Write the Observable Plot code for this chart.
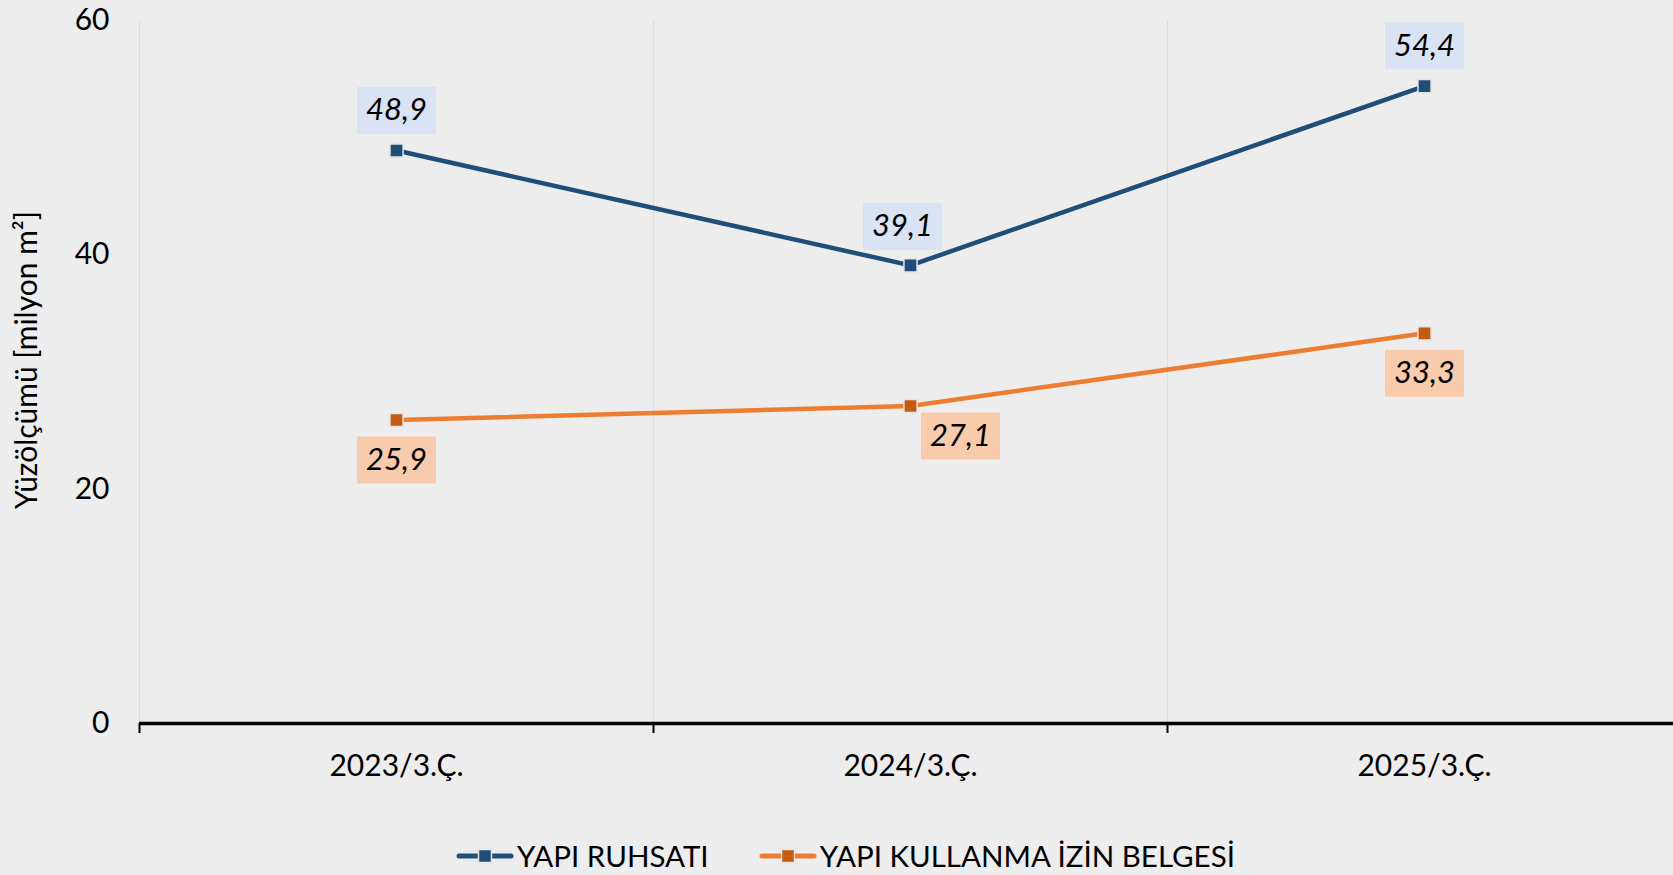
<!DOCTYPE html>
<html>
<head>
<meta charset="utf-8">
<script src="https://cdn.jsdelivr.net/npm/d3@7"></script>
<script src="https://cdn.jsdelivr.net/npm/@observablehq/plot@0.6"></script>
<style>
  html, body { margin: 0; padding: 0; background: #ededed; overflow: hidden; }
  #wrap { position: relative; width: 1673px; height: 875px; }
  #legend { position: absolute; left: 456px; top: 838px; display: flex; align-items: center;
            font-family: Lato, "Noto Sans", sans-serif; font-size: 29.5px; color: #000; }
  #legend .item { display: flex; align-items: center; margin-right: 50px; }
  #legend svg { margin-right: 3px; }
</style>
</head>
<body>
<div id="wrap"><div id="chart"></div><div id="legend"></div></div>
<script>
// ---- data ----
const categories = ["2023/3.Ç.", "2024/3.Ç.", "2025/3.Ç."];
const seriesNames = ["YAPI RUHSATI", "YAPI KULLANMA İZİN BELGESİ"];
const yapiRuhsati = [48.9, 39.1, 54.4];
const yapiKullanma = [25.9, 27.1, 33.3];
const yTicks = [0, 20, 40, 60];
const yTitle = "Yüzölçümü [milyon m²]";

// ---- styles ----
const lineColors = ["#1f4e79", "#ed7d31"];
const markerColors = ["#1f4e79", "#c55a11"];
const boxColors = ["#dae3f3", "#f8cbad"];

const rows = [];
[yapiRuhsati, yapiKullanma].forEach((vals, s) => {
  vals.forEach((v, i) => rows.push({cat: categories[i], i, s, series: seriesNames[s], value: v}));
});

const xPos = d => d.i + 0.5;
const fmt = d => d.value.toFixed(1).replace(".", ",");
const boxSymbol = {draw(ctx) { ctx.moveTo(-39.5, -23.5); ctx.lineTo(39.5, -23.5); ctx.lineTo(39.5, 23.5); ctx.lineTo(-39.5, 23.5); ctx.closePath(); }};

const labelFont = {fontFamily: "Lato, 'Noto Sans', sans-serif", fontStyle: "italic", fontSize: 31, fill: "#000", textAnchor: "middle", lineAnchor: "middle"};

function labelMarks(filter, dx, dy) {
  return [
    Plot.dot(rows, {filter, x: xPos, y: "value", symbol: boxSymbol, r: 10, fill: d => boxColors[d.s], stroke: "none", dx, dy}),
    Plot.text(rows, {filter, x: xPos, y: "value", text: fmt, dx, dy, ...labelFont})
  ];
}

const chart = Plot.plot({
  width: 1673,
  height: 800,
  marginTop: 20,
  marginBottom: 77,
  marginLeft: 139,
  marginRight: 0,
  style: {background: "transparent", fontFamily: "Lato, 'Noto Sans', sans-serif", color: "#000"},
  x: {type: "linear", domain: [0, categories.length], range: [139, 1681]},
  y: {domain: [0, 60]},
  marks: [
    Plot.ruleX(d3.range(categories.length + 1), {stroke: "#d9dee6", strokeWidth: 1}),
    Plot.axisY({ticks: yTicks, tickSize: 0, tickPadding: 30, fontSize: 30, label: null}),
    Plot.text([yTitle], {frameAnchor: "left", textAnchor: "middle", rotate: -90, dx: -112, dy: -12, fontSize: 30, fill: "#000"}),
    Plot.axisX({ticks: d3.range(categories.length + 1), tickSize: 10, strokeWidth: 2, tickFormat: () => "", label: null}),
    Plot.axisX({ticks: categories.map((c, i) => i + 0.5), tickSize: 0, tickPadding: 31, fontSize: 30,
                tickFormat: d => categories[Math.round(d - 0.5)], label: null}),
    Plot.ruleY([0], {stroke: "#000", strokeWidth: 3.5}),
    Plot.line(rows, {x: xPos, y: "value", z: "series", stroke: d => lineColors[d.s], strokeWidth: 4.5}),
    Plot.dot(rows, {x: xPos, y: "value", symbol: "square", r: 7.4, fill: d => markerColors[d.s], stroke: "#e4e4e4", strokeWidth: 1.5}),
    ...labelMarks(d => d.s === 0 && d.i !== 1, 0, -40),
    ...labelMarks(d => d.s === 0 && d.i === 1, -8, -39),
    ...labelMarks(d => d.s === 1 && d.i !== 1, 0, 40),
    ...labelMarks(d => d.s === 1 && d.i === 1, 50, 30)
  ]
});
document.getElementById("chart").appendChild(chart);

// ---- legend ----
const legend = document.getElementById("legend");
seriesNames.forEach((name, s) => {
  const item = document.createElement("div");
  item.className = "item";
  item.innerHTML = `<svg width="58" height="20" viewBox="0 0 58 20">
      <line x1="3" y1="10" x2="55" y2="10" stroke="${lineColors[s]}" stroke-width="5" stroke-linecap="round"/>
      <rect x="22.5" y="3.5" width="13" height="13" fill="${markerColors[s]}" stroke="#e4e4e4" stroke-width="1.5"/>
    </svg><span>${name}</span>`;
  legend.appendChild(item);
});
</script>
</body>
</html>
